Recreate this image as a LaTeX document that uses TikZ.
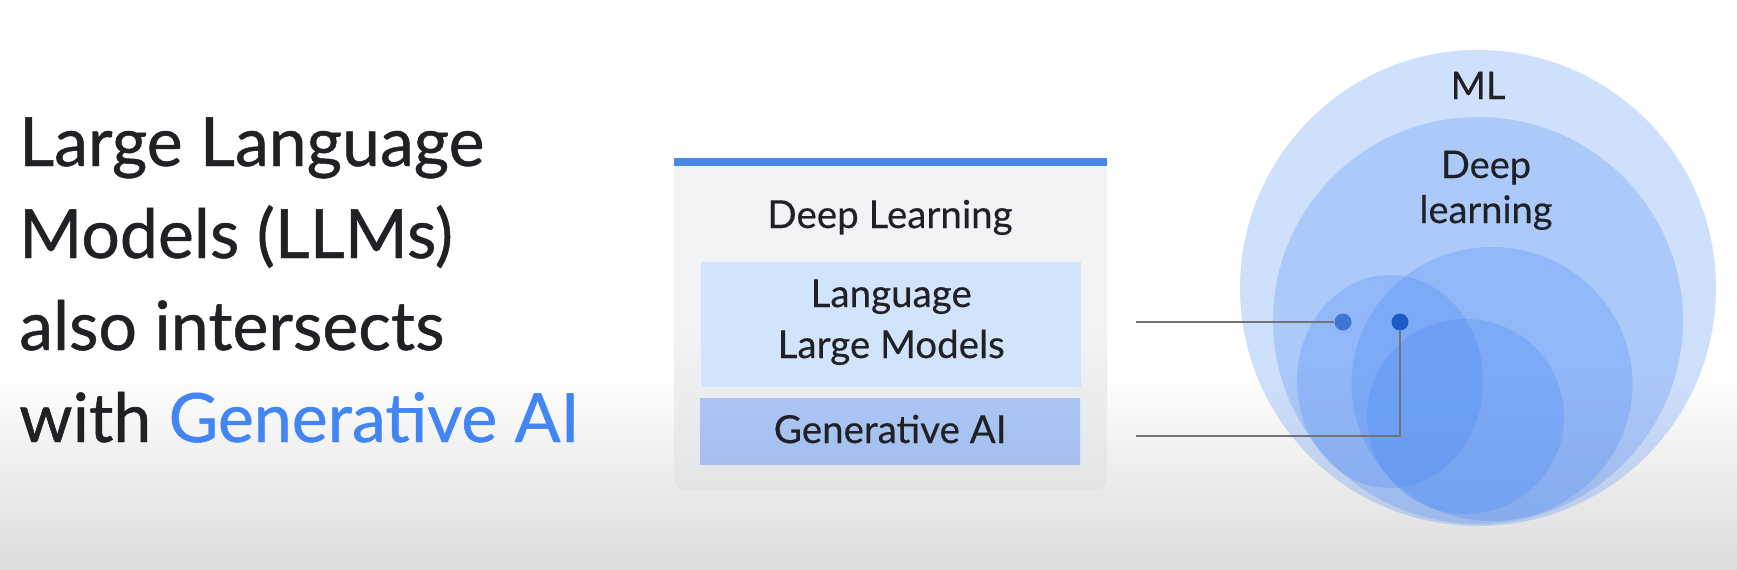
\documentclass[tikz,border=0pt]{standalone}
\usepackage{fontspec}
\setmainfont{Lato}
\newfontfamily\titlefont{Lato}[FakeBold=0.7]
\newfontfamily\labelfont{Lato}[FakeBold=0.35]
\usetikzlibrary{shapes.geometric}
\definecolor{ink}{HTML}{202124}
\definecolor{gblue}{HTML}{4285F4}
\definecolor{barblue}{HTML}{4A86E8}
\definecolor{boxgrey}{HTML}{F1F3F4}
\definecolor{boxgreybot}{HTML}{E3E4E6}
\definecolor{llmfill}{HTML}{D2E3FC}
\definecolor{genfill}{HTML}{A9C6F5}
\definecolor{genfillbot}{HTML}{A4BFEE}
\definecolor{linegrey}{HTML}{707377}
\definecolor{dotone}{HTML}{3F76D6}
\definecolor{dottwo}{HTML}{1B5CC9}
\definecolor{bgbot}{HTML}{DCDCDC}
\begin{document}
\begin{tikzpicture}[x=1pt,y=-1pt,
  title/.style={anchor=base west,inner sep=0pt,text=ink,font=\titlefont\fontsize{68}{76}\selectfont},
  boxtext/.style={anchor=base,inner sep=0pt,text=ink,font=\labelfont\fontsize{38.5}{42}\selectfont},
  venntext/.style={anchor=base,inner sep=0pt,text=ink,font=\labelfont\fontsize{38}{42}\selectfont},
  venn/.style={fill=gblue,fill opacity=0.25},
  conn/.style={draw=linegrey,line width=2pt},
  dotnode/.style={circle,inner sep=0pt,minimum size=17pt}
]
\useasboundingbox (0,0) rectangle (1737,570);
\fill[white] (0,0) rectangle (1737,371);
\shade[top color=white,bottom color=bgbot] (0,370) rectangle (1737,570);

% left title
\node[title] (t1) at (19,166) {Large Language};
\node[title] (t2) at (19,258) {Models (LLMs)};
\node[title] (t3) at (19,350) {also intersects};
\node[title] (t4) at (19,442) {with \textcolor{gblue}{Generative AI}};

% middle box
\shade[top color=boxgrey,bottom color=boxgreybot,middle color=boxgrey,rounded corners=11pt] (674,160) rectangle (1107,490);
\fill[barblue] (674,158) rectangle (1107,166);
\node[boxtext] (dl) at (890,228) {Deep Learning};
\node[rectangle,fill=llmfill,minimum width=380pt,minimum height=125pt,anchor=north west,inner sep=0pt] (llm) at (701,262) {};
\node[boxtext] (llma) at (llm.center |- 0,307) {Language};
\node[boxtext] (llmb) at (llm.center |- 0,358) {Large Models};
\node[rectangle,top color=genfill,bottom color=genfillbot,minimum width=380pt,minimum height=66pt,anchor=north west,inner sep=0pt] (gen) at (700,398) {};
\node[boxtext] (gent) at (gen.center |- 0,443) {Generative AI};

% venn
\fill[venn] (1478,288) ellipse [x radius=238pt, y radius=238pt];
\fill[venn] (1478,320.5) ellipse [x radius=205pt, y radius=203.5pt];
\fill[venn] (1492,384) ellipse [x radius=140.5pt, y radius=137pt];
\fill[venn] (1390,381.5) ellipse [x radius=93pt, y radius=106.5pt];
\fill[venn] (1465.5,416.5) ellipse [x radius=98.5pt, y radius=97.5pt];
\node[venntext] (ml) at (1478,99) {ML};
\node[venntext] (dpa) at (1486,178) {Deep};
\node[venntext] (dpb) at (1486,223) {learning};

% connectors
\coordinate (c1) at (1136,322);
\coordinate (c2) at (1136,436);
\node[dotnode,fill=dotone] (d1) at (1343,322) {};
\node[dotnode,fill=dottwo] (d2) at (1400,322) {};
\draw[conn] (c1) -- (d1.west);
\draw[conn] (c2) -| (d2.south);
\end{tikzpicture}
\end{document}
